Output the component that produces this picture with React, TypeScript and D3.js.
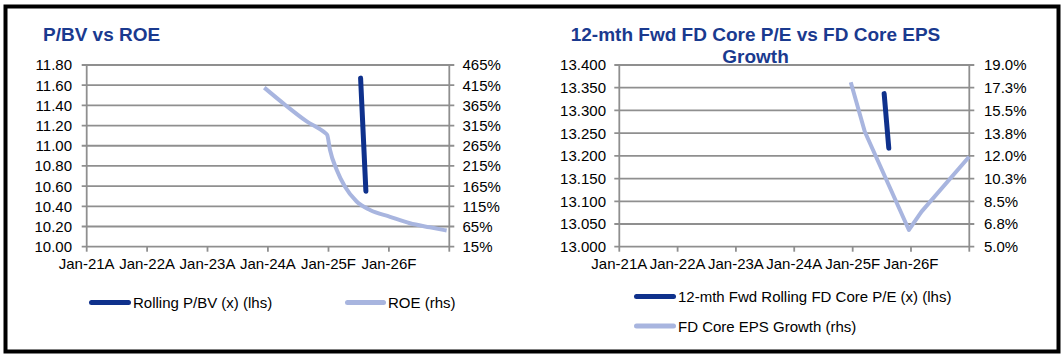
import React from "react";
import * as d3 from "d3";

// ---------- data ----------
const xTickDates = ["2021-01-01", "2022-01-01", "2023-01-01", "2024-01-01", "2025-01-01", "2026-01-01", "2027-01-01"];
const xTickLabels = ["Jan-21A", "Jan-22A", "Jan-23A", "Jan-24A", "Jan-25F", "Jan-26F", ""];

// Left chart: P/BV vs ROE
const pbvDates = ["2025-07-14", "2025-07-30", "2025-08-15"];
const pbvValues = [11.67, 11.11, 10.55];
const roeDates = [
  "2023-12-10", "2024-04-15", "2024-08-20", "2024-12-11", "2024-12-24", "2025-01-10", "2025-02-20",
  "2025-04-10", "2025-06-20", "2025-09-09", "2026-01-08", "2026-05-08", "2026-09-06", "2026-12-16",
];
const roeValues = [409, 366, 326, 297, 292, 255, 205, 164, 127, 106, 89, 73, 63, 55];
const pbvTicks = [10.0, 10.2, 10.4, 10.6, 10.8, 11.0, 11.2, 11.4, 11.6, 11.8];
const roeTicks = [15, 65, 115, 165, 215, 265, 315, 365, 415, 465];

// Right chart: P/E vs EPS growth
const peDates = ["2025-07-17", "2025-08-15"];
const peValues = [13.337, 13.217];
const epsDates = ["2024-12-20", "2025-03-18", "2025-12-19", "2026-03-08", "2026-12-31"];
const epsValues = [17.67, 13.86, 6.29, 7.7, 11.93];
const peTicks = [13.0, 13.05, 13.1, 13.15, 13.2, 13.25, 13.3, 13.35, 13.4];
const epsTicks = [5.0, 6.75, 8.5, 10.25, 12.0, 13.75, 15.5, 17.25, 19.0];

// ---------- style ----------
const DARK = "#0f318c";
const LIGHT = "#a8b5df";
const TITLE = "#1a3a8f";
const GRID = "#8f8f8f";
const FONT = "Arial, 'Liberation Sans', sans-serif";

const parse = d3.timeParse("%Y-%m-%d");

type Pt = { d: Date; v: number };
const zip = (ds: string[], vs: number[]): Pt[] => ds.map((s, i) => ({ d: parse(s) as Date, v: vs[i] }));

interface ChartProps {
  x0: number;
  x1: number;
  yTop: number;
  yBot: number;
  leftTicks: number[];
  rightTicks: number[];
  leftFmt: (v: number) => string;
  rightFmt: (v: number) => string;
  leftLabelX: number;
  rightLabelX: number;
  dark: Pt[];
  light: Pt[];
  smoothLight: boolean;
}

function DualChart(p: ChartProps) {
  const x = d3
    .scaleTime()
    .domain([parse(xTickDates[0]) as Date, parse(xTickDates[xTickDates.length - 1]) as Date])
    .range([p.x0, p.x1]);
  const yL = d3
    .scaleLinear()
    .domain([p.leftTicks[0], p.leftTicks[p.leftTicks.length - 1]])
    .range([p.yBot, p.yTop]);
  const yR = d3
    .scaleLinear()
    .domain([p.rightTicks[0], p.rightTicks[p.rightTicks.length - 1]])
    .range([p.yBot, p.yTop]);

  const darkLine = d3
    .line<Pt>()
    .x((d) => x(d.d))
    .y((d) => yL(d.v))
    .curve(d3.curveMonotoneX);
  const lightLine = d3
    .line<Pt>()
    .x((d) => x(d.d))
    .y((d) => yR(d.v))
    .curve(p.smoothLight ? d3.curveMonotoneX : d3.curveLinear);

  return (
    <g fontFamily={FONT} fontSize={15} fill="#000">
      {p.leftTicks.map((t, i) => (
        <g key={"gl" + i}>
          <line x1={p.x0 - 5} x2={p.x1 + 5} y1={yL(t)} y2={yL(t)} stroke={GRID} strokeWidth={1.8} />
          <text x={p.leftLabelX} y={yL(t)} dy="0.36em" textAnchor="end">
            {p.leftFmt(t)}
          </text>
        </g>
      ))}
      {p.rightTicks.map((t, i) => (
        <text key={"rl" + i} x={p.rightLabelX} y={yR(t)} dy="0.36em" textAnchor="start">
          {p.rightFmt(t)}
        </text>
      ))}
      <line x1={p.x0} x2={p.x0} y1={p.yTop} y2={p.yBot} stroke={GRID} strokeWidth={1.8} />
      <line x1={p.x1} x2={p.x1} y1={p.yTop} y2={p.yBot} stroke={GRID} strokeWidth={1.8} />
      {xTickDates.map((s, i) => {
        const xx = x(parse(s) as Date);
        return (
          <g key={"xt" + i}>
            <line x1={xx} x2={xx} y1={p.yBot} y2={p.yBot + 5} stroke={GRID} strokeWidth={1.8} />
            <text x={xx} y={p.yBot + 22.5} textAnchor="middle">
              {xTickLabels[i]}
            </text>
          </g>
        );
      })}
      <path d={lightLine(p.light) || ""} fill="none" stroke={LIGHT} strokeWidth={4} strokeLinejoin="round" />
      <path
        d={darkLine(p.dark) || ""}
        fill="none"
        stroke={DARK}
        strokeWidth={5}
        strokeLinecap="round"
        strokeLinejoin="round"
      />
    </g>
  );
}

function Swatch({ x1, x2, y, color }: { x1: number; x2: number; y: number; color: string }) {
  return <line x1={x1 + 2.5} x2={x2 - 2.5} y1={y} y2={y} stroke={color} strokeWidth={5} strokeLinecap="round" />;
}

export default function App() {
  return (
    <svg
      width={1062}
      height={355}
      style={{ position: "absolute", left: 0, top: 0, background: "#fff" }}
      fontFamily={FONT}
    >
      <rect x={0} y={0} width={1062} height={355} fill="#fff" />
      <rect x={5.5} y={6.5} width={1053} height={345} fill="none" stroke="#000" strokeWidth={4} />

      {/* Left chart */}
      <text x={43} y={41} fontSize={19} fontWeight="bold" fill={TITLE}>
        P/BV vs ROE
      </text>
      <DualChart
        x0={86.7}
        x1={449.3}
        yTop={65}
        yBot={246.7}
        leftTicks={pbvTicks}
        rightTicks={roeTicks}
        leftFmt={(v) => v.toFixed(2)}
        rightFmt={(v) => `${v}%`}
        leftLabelX={72}
        rightLabelX={462.5}
        dark={zip(pbvDates, pbvValues)}
        light={zip(roeDates, roeValues)}
        smoothLight={true}
      />
      <g fontSize={15} fontFamily={FONT}>
        <Swatch x1={89} x2={131} y={302.5} color={DARK} />
        <text x={133} y={308}>Rolling P/BV (x) (lhs)</text>
        <Swatch x1={345} x2={386} y={302.5} color={LIGHT} />
        <text x={388} y={308}>ROE (rhs)</text>
      </g>

      {/* Right chart */}
      <text x={755.5} y={41} fontSize={19} fontWeight="bold" fill={TITLE} textAnchor="middle">
        12-mth Fwd FD Core P/E vs FD Core EPS
      </text>
      <text x={755.5} y={62.5} fontSize={19} fontWeight="bold" fill={TITLE} textAnchor="middle">
        Growth
      </text>
      <DualChart
        x0={619.3}
        x1={969.3}
        yTop={65}
        yBot={246.7}
        leftTicks={peTicks}
        rightTicks={epsTicks}
        leftFmt={(v) => v.toFixed(3)}
        rightFmt={(v) => `${v.toFixed(1)}%`}
        leftLabelX={606}
        rightLabelX={984}
        dark={zip(peDates, peValues)}
        light={zip(epsDates, epsValues)}
        smoothLight={false}
      />
      <g fontSize={15} fontFamily={FONT}>
        <Swatch x1={634} x2={676} y={296.5} color={DARK} />
        <text x={678} y={302}>12-mth Fwd Rolling FD Core P/E (x) (lhs)</text>
        <Swatch x1={634} x2={676} y={326} color={LIGHT} />
        <text x={678} y={331.5}>FD Core EPS Growth (rhs)</text>
      </g>
    </svg>
  );
}
